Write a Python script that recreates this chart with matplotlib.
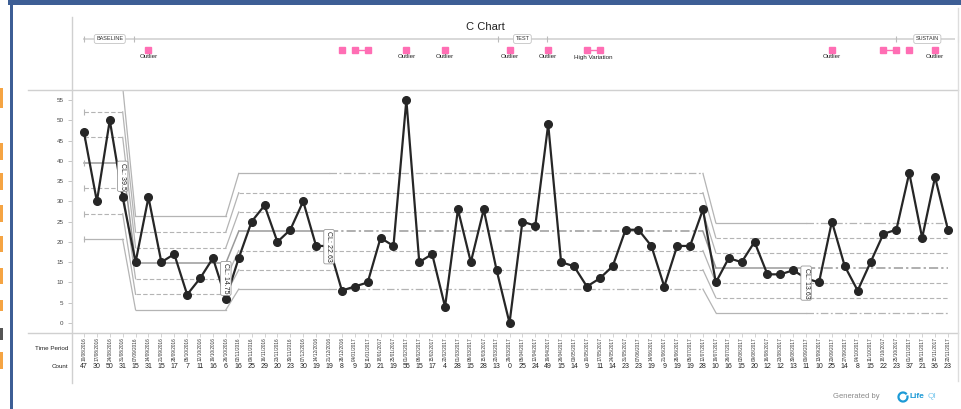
import numpy as np
import matplotlib.pyplot as plt
import matplotlib.transforms as mtransforms
from matplotlib.lines import Line2D
from matplotlib.patches import Rectangle, Arc

plt.rcParams['font.family'] = ['Liberation Sans', 'DejaVu Sans']

# weekly counts
counts = [47, 30, 50, 31, 15, 31, 15, 17, 7, 11,
          16, 6, 16, 25, 29, 20, 23, 30, 19, 19,
          8, 9, 10, 21, 19, 55, 15, 17, 4, 28,
          15, 28, 13, 0, 25, 24, 49, 15, 14, 9,
          11, 14, 23, 23, 19, 9, 19, 19, 28, 10,
          16, 15, 20, 12, 12, 13, 11, 10, 25, 14,
          8, 15, 22, 23, 37, 21, 36, 23]

dates = ['10/08/2016', '17/08/2016', '24/08/2016', '31/08/2016', '07/09/2016',
         '14/09/2016', '21/09/2016', '28/09/2016', '05/10/2016', '12/10/2016',
         '19/10/2016', '26/10/2016', '02/11/2016', '09/11/2016', '16/11/2016',
         '23/11/2016', '30/11/2016', '07/12/2016', '14/12/2016', '21/12/2016',
         '28/12/2016', '04/01/2017', '11/01/2017', '18/01/2017', '25/01/2017',
         '01/02/2017', '08/02/2017', '15/02/2017', '22/02/2017', '01/03/2017',
         '08/03/2017', '15/03/2017', '22/03/2017', '29/03/2017', '05/04/2017',
         '12/04/2017', '19/04/2017', '26/04/2017', '03/05/2017', '10/05/2017',
         '17/05/2017', '24/05/2017', '31/05/2017', '07/06/2017', '14/06/2017',
         '21/06/2017', '28/06/2017', '05/07/2017', '12/07/2017', '19/07/2017',
         '26/07/2017', '02/08/2017', '09/08/2017', '16/08/2017', '23/08/2017',
         '30/08/2017', '06/09/2017', '13/09/2017', '20/09/2017', '27/09/2017',
         '04/10/2017', '11/10/2017', '18/10/2017', '25/10/2017', '01/11/2017',
         '08/11/2017', '15/11/2017', '22/11/2017']

# segments (0-based start, end) and number of points used for the centre line
seg_start = [0, 4, 12, 49]
seg_end = [4, 12, 49, 68]
calc_n = [4, 8, 8, 8]

# rule-break flags shown on top strip (1-based point index)
flag_idx = [6, 21, 22, 23, 26, 29, 34, 37, 40, 41, 59, 63, 64, 65, 67]
flag_links = [(22, 23), (40, 41), (63, 64)]
outlier_idx = [6, 26, 29, 34, 37, 59, 67]
high_var = (40, 41)

phase_names = ['BASELINE', 'TEST', 'SUSTAIN']
phase_pos = [3.0, 35.0, 66.4]

W, H = 961, 409
fig = plt.figure(figsize=(W / 100, H / 100), dpi=100)


def fx(px):
    return px / W


def fy(py):
    return 1 - py / H


ax = fig.add_axes([fx(72), fy(333), fx(958) - fx(72), fy(90) - fy(333)])
ax.set_xlim(0.07, 68.78)
ax.set_ylim(-2.47, 57.47)
for s in ax.spines.values():
    s.set_visible(False)
ax.set_yticks(np.arange(0, 56, 5))
ax.tick_params(axis='y', labelsize=4.5, labelcolor='#444444', color='#bbbbbb',
               length=3, width=0.6, pad=3)
ax.set_xticks(np.arange(1, 69))
ax.set_xticklabels([])
ax.tick_params(axis='x', color='#cccccc', length=3, width=0.6)

x = np.arange(1, len(counts) + 1)
lim_col = '#b4b4b4'

cls = []
for s0, s1, n in zip(seg_start, seg_end, calc_n):
    cls.append(np.mean(counts[s0:s0 + n]))

for k in [-3, -2, -1, 0, 1, 2, 3]:
    lv = [c + k * np.sqrt(c) for c in cls]
    col = '#9a9a9a' if k == 0 else lim_col
    lw = 1.1 if k == 0 else 0.9
    for i, (s0, s1, n) in enumerate(zip(seg_start, seg_end, calc_n)):
        xa, xb, xc = s0 + 1, s0 + n, s1
        if abs(k) in (1, 2):
            ax.plot([xa, xc], [lv[i], lv[i]], color=lim_col, lw=0.8,
                    dashes=(4, 2))
        else:
            ax.plot([xa, xb], [lv[i], lv[i]], color=col, lw=lw)
            if xc > xb:
                ax.plot([xb, xc], [lv[i], lv[i]], color=col, lw=lw,
                        dashes=(6, 2, 1.5, 2))
        if i + 1 < len(cls):
            ax.plot([xc, xc + 1], [lv[i], lv[i + 1]], color=col, lw=lw)
    ax.plot([1], [lv[0]], marker='|', color=lim_col, ms=5, mew=0.8)

ax.plot(x, counts, color='#262626', lw=1.6, marker='o', ms=5.5, zorder=5)

# centre line labels
for i, (s0, n) in enumerate(zip(seg_start, calc_n)):
    ax.text(s0 + n, cls[i], 'CL: %g' % round(cls[i] + 1e-9, 2), rotation=270,
            ha='center', va='top', fontsize=5, color='#222222', zorder=6,
            bbox=dict(boxstyle='round,pad=0.25', fc='white', ec='#999999', lw=0.6))

tr = mtransforms.blended_transform_factory(ax.transData, fig.transFigure)

# frame lines
fig.add_artist(Line2D([fx(72), fx(72)], [fy(17), fy(383)], color='#d0d0d0', lw=1))
fig.add_artist(Line2D([fx(28), fx(958)], [fy(90), fy(90)], color='#d0d0d0', lw=1))
fig.add_artist(Line2D([fx(28), fx(958)], [fy(333), fy(333)], color='#d0d0d0', lw=1))
fig.add_artist(Line2D([fx(958), fx(958)], [fy(8), fy(381)], color='#dddddd', lw=1))

# window border
blue = '#3d5e95'
fig.add_artist(Rectangle((fx(8), fy(5)), 1 - fx(8), 5 / H, color=blue, lw=0))
fig.add_artist(Rectangle((fx(10), 0), 3 / W, 1, color=blue, lw=0))
for a, b in [(88, 108), (143, 160), (173, 190), (205, 222), (236, 252),
             (268, 284), (300, 311), (352, 369)]:
    fig.add_artist(Rectangle((0, fy(b)), 3 / W, (b - a) / H, color='#f5a443', lw=0))
fig.add_artist(Rectangle((0, fy(340)), 3 / W, 12 / H, color='#555555', lw=0))

# title
fig.text(fx(485), fy(27), 'C Chart', fontsize=8, ha='center', va='center',
         color='#222222')

# phase strip
ax.plot([1, 68.5], [fy(39), fy(39)], transform=tr, clip_on=False,
        color='#d8d8d8', lw=1.4)
ax.plot([1], [fy(39)], transform=tr, clip_on=False, marker='|', ms=5,
        color='#bbbbbb', mew=0.8)
for name, p in zip(phase_names, phase_pos):
    ax.text(p, fy(39), name, transform=tr, fontsize=4, ha='center',
            va='center', color='#333333',
            bbox=dict(boxstyle='round,pad=0.35', fc='white', ec='#c4c4c4', lw=0.6))
ax.plot([4.9, 33.1, 36.9, 64.0, 68.8], [fy(39)] * 5, transform=tr,
        clip_on=False, ls='none', marker='|', ms=5, color='#bbbbbb', mew=0.8)

# flags
pink = '#ff6eb4'
for a, b in flag_links:
    ax.plot([a, b], [fy(50), fy(50)], transform=tr, clip_on=False,
            color=pink, lw=1)
ax.plot(flag_idx, [fy(50)] * len(flag_idx), transform=tr, clip_on=False,
        ls='none', marker='s', ms=5, color=pink)
for i in outlier_idx:
    ax.text(i, fy(57), 'Outlier', transform=tr, fontsize=4.5, ha='center',
            va='center', color='#222222')
ax.text(np.mean(high_var), fy(57), 'High Variation', transform=tr,
        fontsize=4.5, ha='center', va='center', color='#222222')

# bottom table
fig.text(fx(68), fy(349), 'Time Period', fontsize=4.5, ha='right',
         va='center', color='#222222')
fig.text(fx(68), fy(367), 'Count', fontsize=4.5, ha='right', va='center',
         color='#222222')
for xi, d, c in zip(x, dates, counts):
    ax.text(xi, fy(349), d, transform=tr, rotation=90, fontsize=3.4,
            ha='center', va='center', color='#333333')
    ax.text(xi, fy(367), str(c), transform=tr, fontsize=5, ha='center',
            va='center', color='#222222')

# footer
fig.text(fx(833), fy(397), 'Generated by', fontsize=5.5, ha='left',
         va='center', color='#8a8a8a')
fig.add_artist(Arc((fx(903), fy(397)), 9 / W, 9 / H, theta1=60, theta2=400,
                   color='#1c9ad6', lw=1.6))
fig.text(fx(909), fy(397), 'Life', fontsize=6, ha='left', va='center',
         color='#1c9ad6', fontweight='bold')
fig.text(fx(928), fy(397), 'QI', fontsize=6, ha='left', va='center',
         color='#7cc9ee')

fig.savefig('out.png', dpi=100)
